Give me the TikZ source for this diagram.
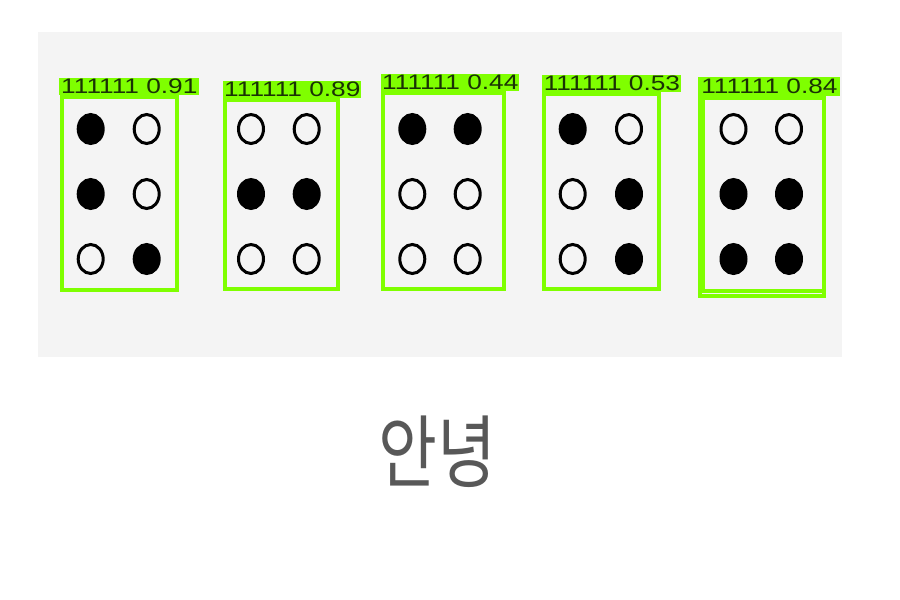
\documentclass[tikz,border=0pt]{standalone}
\usepackage{fontspec}
\usepackage{graphicx}
\setmainfont{Liberation Sans}
\newfontfamily\krfont{Noto Sans CJK KR}
\usetikzlibrary{positioning, shapes.geometric}

\definecolor{boxgreen}{RGB}{127,255,0}
\definecolor{tagtext}{RGB}{25,50,5}
\definecolor{panelgray}{RGB}{244,244,244}
\definecolor{wordgray}{RGB}{88,88,88}

\begin{document}
\begin{tikzpicture}[
    x=1pt, y=-1pt, % pixel coordinates
    % Styles
    cell/.style={ % Detection box
        draw=boxgreen,
        line width=3.5pt,
        inner sep=0pt
    },
    tag/.style={ % Class and score label
        fill=boxgreen,
        text=tagtext,
        inner sep=0pt,
        minimum height=17pt,
        anchor=south west,
        font=\fontsize{21}{21}\selectfont
    },
    dot/.style={ % Braille dot
        ellipse,
        draw,
        line width=3pt,
        minimum width=25pt,
        minimum height=29pt,
        inner sep=0pt
    },
    raised/.style={dot, fill=black},
    flat/.style={dot}
]
    \useasboundingbox (0,0) rectangle (900,600);
    \fill[panelgray] (38,32) rectangle (842,357);

    % Detection boxes
    \node[cell, minimum width=115pt, minimum height=193pt] (c1) at (119.4,193.5) {};
    \node[cell, minimum width=113pt, minimum height=189pt] (c2) at (281.4,194.5) {};
    \node[cell, minimum width=121pt, minimum height=196pt] (c3) at (443.4,191) {};
    \node[cell, minimum width=115pt, minimum height=195pt] (c4) at (601.5,191.5) {};
    \node[cell, minimum width=124pt, minimum height=198pt] (c5) at (762,197) {};
    \node[cell, minimum width=120pt, minimum height=194pt] (c5b) at (763.5,194) {};

    % Labels
    \node[tag, minimum width=140pt] (t1) at ([xshift=-1pt]c1.north west) {\scalebox{1.25}[1]{111111 0.91}};
    \node[tag, minimum width=138pt] (t2) at (c2.north west) {\scalebox{1.25}[1]{111111 0.89}};
    \node[tag, minimum width=138pt] (t3) at (c3.north west) {\scalebox{1.25}[1]{111111 0.44}};
    \node[tag, minimum width=139pt] (t4) at (c4.north west) {\scalebox{1.25}[1]{111111 0.53}};
    \node[tag, minimum width=142pt, minimum height=19pt] (t5) at (c5.north west) {\scalebox{1.25}[1]{111111 0.84}};

    % Braille dots, column by column
    \foreach \col/\x/\sa/\sb/\sc in {
        1/90.7/raised/raised/flat, 2/146.7/flat/flat/raised,
        3/251/flat/raised/flat, 4/306.7/flat/raised/flat,
        5/412.3/raised/flat/flat, 6/467.7/raised/flat/flat,
        7/572.7/raised/flat/flat, 8/629/flat/raised/raised,
        9/733.5/flat/raised/raised, 10/789/flat/raised/raised}{
        \node[\sa] (d\col a) at (\x,129) {};
        \node[\sb] (d\col b) at (\x,194) {};
        \node[\sc] (d\col c) at (\x,259) {};
    }

    % Decoded text
    \node[font=\krfont\fontsize{64}{64}\selectfont, text=wordgray] (word) at (437.5,452) {\scalebox{1}[1.24]{안녕}};
\end{tikzpicture}
\end{document}
